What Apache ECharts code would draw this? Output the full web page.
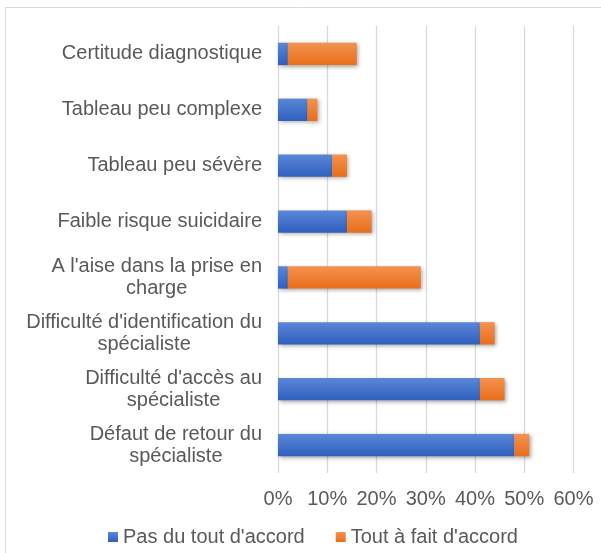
<!DOCTYPE html>
<html>
<head>
<meta charset="utf-8">
<script src="https://cdn.jsdelivr.net/npm/echarts@6/dist/echarts.min.js"></script>
<style>
html,body{margin:0;padding:0;background:#fff;}
#c{width:601px;height:553px;}
</style>
</head>
<body>
<div id="c"></div>
<script>
const categories = [
  "Certitude diagnostique",
  "Tableau peu complexe",
  "Tableau peu sévère",
  "Faible risque suicidaire",
  "A l'aise dans la prise en\ncharge",
  "Difficulté d'identification du\nspécialiste",
  "Difficulté d'accès au\nspécialiste",
  "Défaut de retour du\nspécialiste"
];
const pasDuToutDAccord = [2, 6, 11, 14, 2, 41, 41, 48];
const toutAFaitDAccord = [14, 2, 3, 5, 27, 3, 5, 3];
const seriesNames = ["Pas du tout d'accord", "Tout à fait d'accord"];
const xTicks = { min: 0, max: 60, interval: 10 };

const FONT = "'Liberation Sans', Arial, sans-serif";
const TXT = '#595959';
const FS = 20;

function grad(top, bottom) {
  return new echarts.graphic.LinearGradient(0, 0, 0, 1, [
    { offset: 0, color: top },
    { offset: 1, color: bottom }
  ]);
}

const chart = echarts.init(document.getElementById('c'), null, { renderer: 'canvas' });
chart.setOption({
  animation: false,
  backgroundColor: '#fff',
  textStyle: { fontFamily: FONT },
  graphic: [{
    type: 'rect',
    shape: { x: 5.5, y: 7.5, width: 620, height: 580 },
    style: { fill: 'none', stroke: '#d9d9d9', lineWidth: 1 },
    silent: true
  }],
  grid: { left: 278, right: 27.5, top: 26, bottom: 80, containLabel: false },
  legend: {
    left: 103,
    top: 522,
    itemWidth: 10,
    itemHeight: 10,
    itemGap: 31,
    icon: 'rect',
    textStyle: { fontSize: FS, color: TXT, fontFamily: FONT },
    data: seriesNames
  },
  xAxis: {
    type: 'value',
    min: xTicks.min,
    max: xTicks.max,
    interval: xTicks.interval,
    axisLine: { show: false },
    axisTick: { show: false },
    splitLine: { show: true, lineStyle: { color: '#d9d9d9', width: 1.3 } },
    axisLabel: {
      formatter: '{value}%',
      fontSize: FS,
      color: TXT,
      fontFamily: FONT,
      margin: 16
    }
  },
  yAxis: {
    type: 'category',
    inverse: true,
    data: categories,
    axisLine: { show: false },
    axisTick: { show: false },
    axisLabel: {
      margin: 16,
      align: 'right',
      interval: 0,
      formatter: v => v.split('\n').map(l => '{c|' + l + '}').join('\n'),
      rich: {
        c: { align: 'center', fontSize: FS, lineHeight: 22, color: TXT, fontFamily: FONT }
      }
    }
  },
  series: [
    {
      name: seriesNames[0],
      type: 'bar',
      stack: 'total',
      barWidth: '40%',
      data: pasDuToutDAccord,
      itemStyle: {
        color: grad('#5b87d8', '#2f5fbe'),
        shadowBlur: 4,
        shadowOffsetX: 1.5,
        shadowOffsetY: 1.5,
        shadowColor: 'rgba(0,0,0,0.35)'
      }
    },
    {
      name: seriesNames[1],
      type: 'bar',
      stack: 'total',
      barWidth: '40%',
      data: toutAFaitDAccord,
      itemStyle: {
        color: grad('#f4924f', '#e86e1b'),
        shadowBlur: 4,
        shadowOffsetX: 1.5,
        shadowOffsetY: 1.5,
        shadowColor: 'rgba(0,0,0,0.35)'
      }
    }
  ]
});
</script>
</body>
</html>
